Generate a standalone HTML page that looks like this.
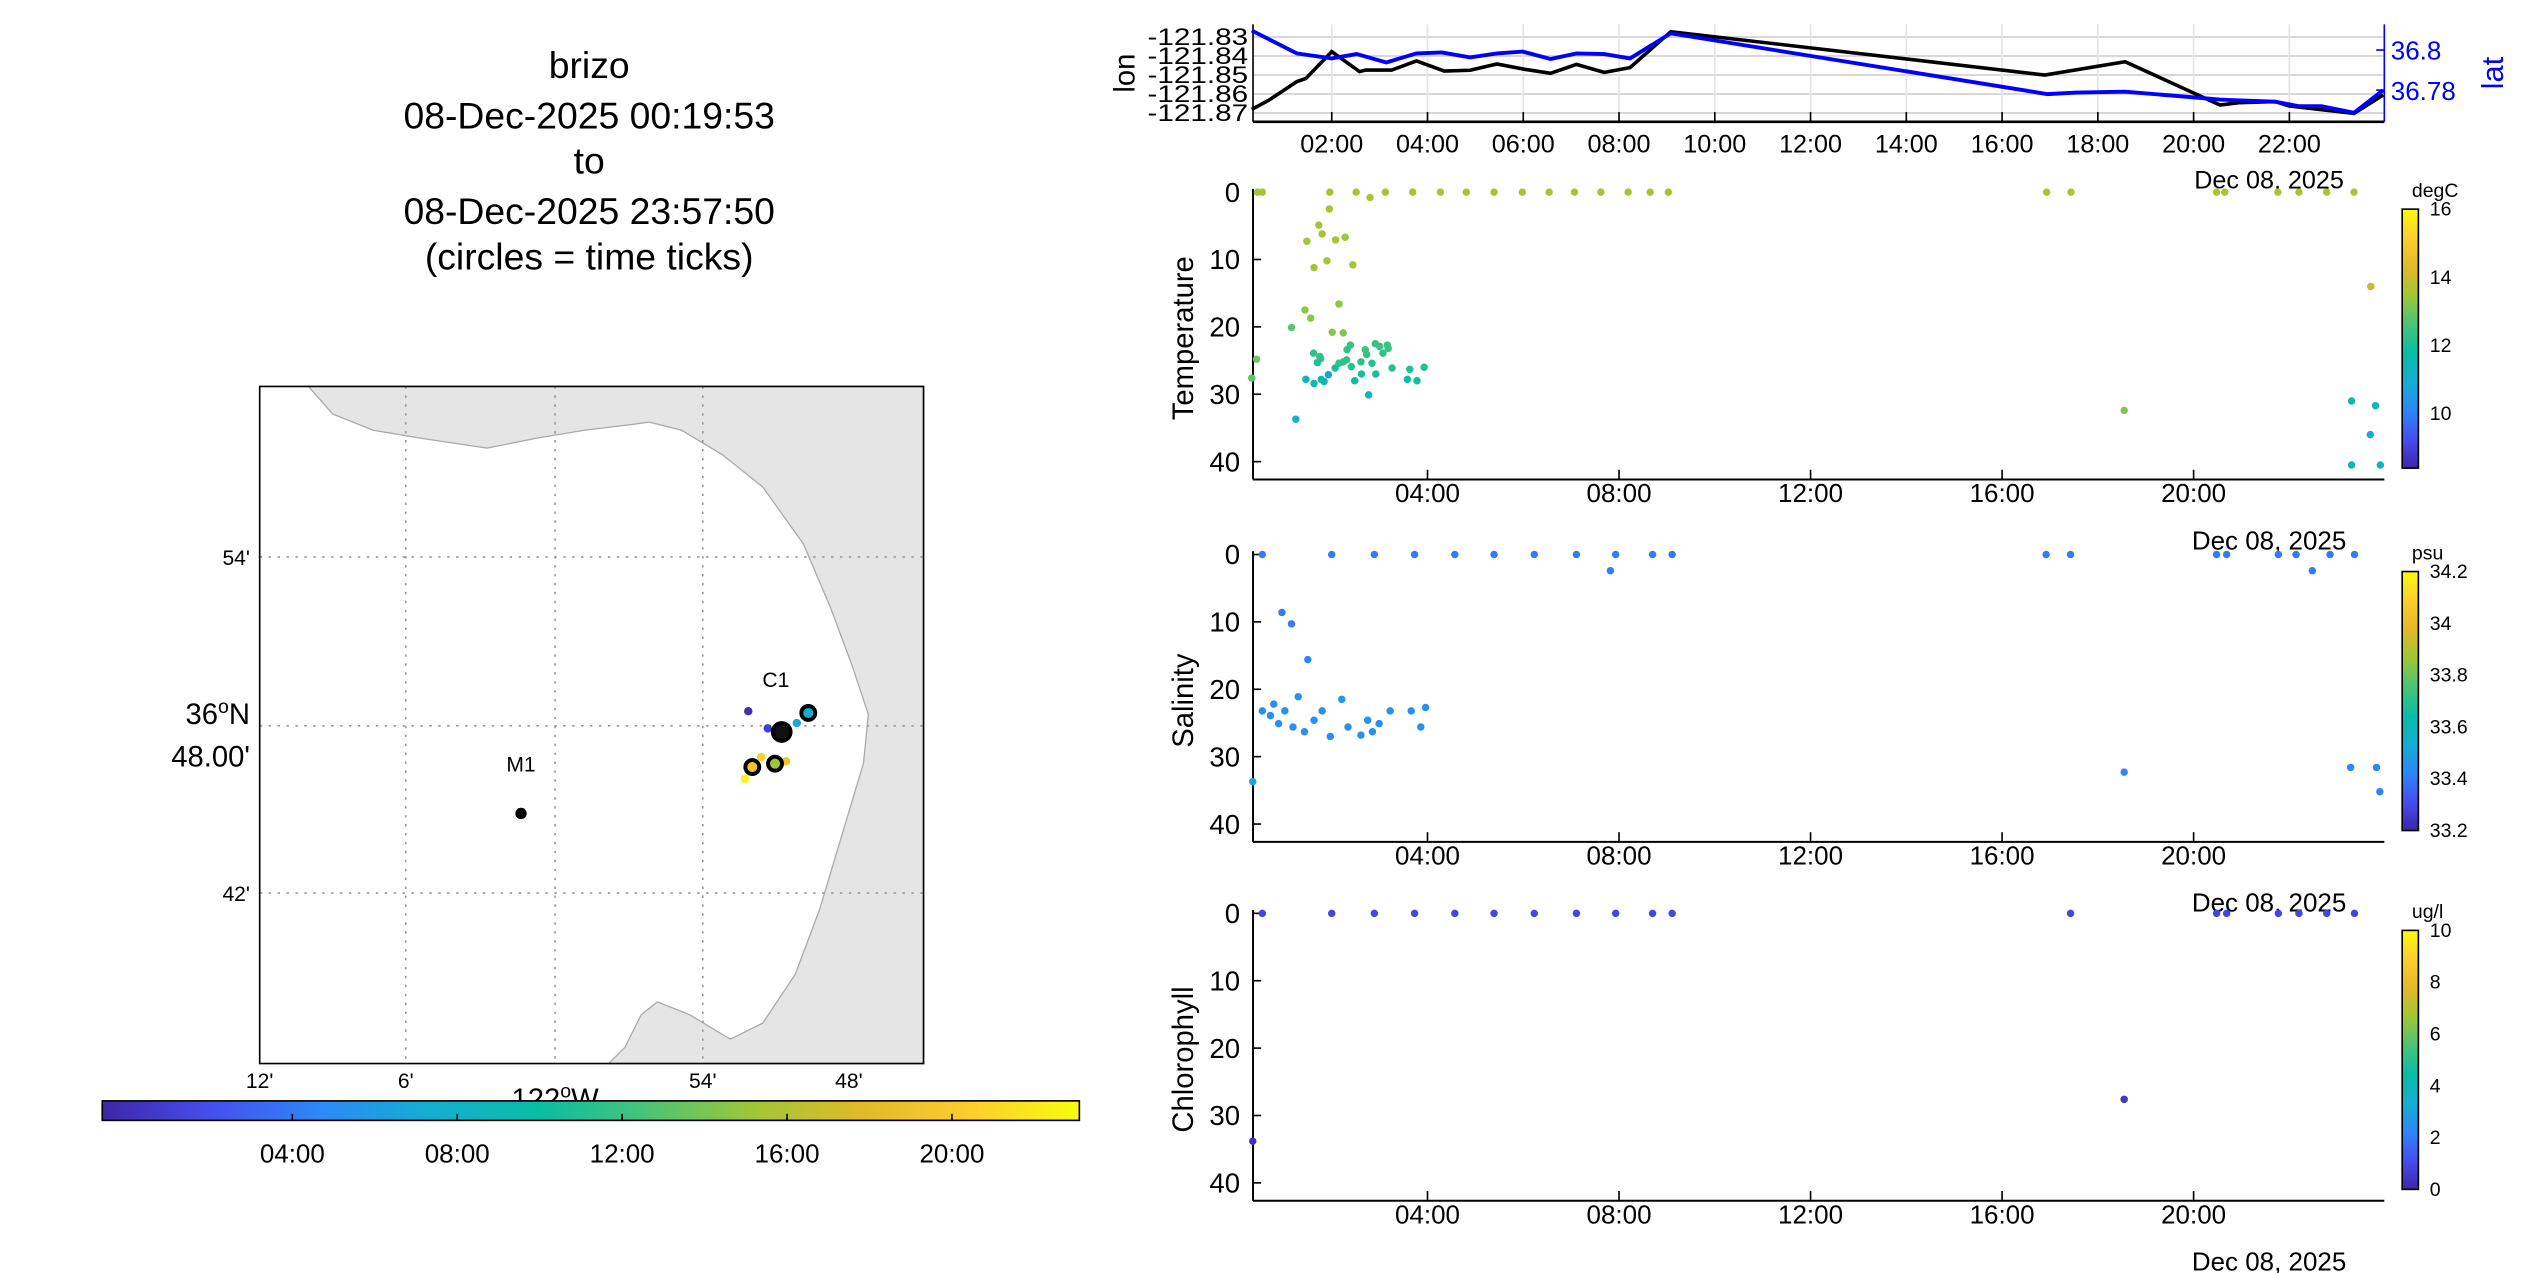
<!DOCTYPE html>
<html><head><meta charset="utf-8"><style>
html,body{margin:0;padding:0;background:#fff;}
svg{display:block;font-family:"Liberation Sans",sans-serif;}
</style></head><body>
<svg id="fig" width="2545" height="1273" viewBox="0 0 1568 784" preserveAspectRatio="none" xmlns="http://www.w3.org/2000/svg">
<g font-size="23" text-anchor="middle" fill="#000">
<text x="363" y="48">brizo</text>
<text x="363" y="79">08-Dec-2025 00:19:53</text>
<text x="363" y="107">to</text>
<text x="363" y="138">08-Dec-2025 23:57:50</text>
<text x="363" y="166">(circles = time ticks)</text>
</g>
<g id="map"></g>
<g id="top"></g>
<g id="panels"></g>
</svg>
<script>
const NS='http://www.w3.org/2000/svg';
// ---- lon/lat time series ----
const lonTime=[0.33,0.69,1.27,1.46,2.0,2.58,2.71,3.25,3.77,4.35,4.89,5.45,6.03,6.57,7.11,7.69,8.23,9.08,16.89,18.57,20.55,20.94,21.71,22.0,23.35,23.96];
const lonVal=[-121.8681,-121.8632,-121.8535,-121.8518,-121.8377,-121.8482,-121.8474,-121.8474,-121.8426,-121.8479,-121.8475,-121.8442,-121.847,-121.8491,-121.8444,-121.8486,-121.8461,-121.8272,-121.85,-121.843,-121.8658,-121.8646,-121.864,-121.8663,-121.8702,-121.8605];
const latTime=[0.33,1.27,2.0,2.52,3.14,3.77,4.3,4.89,5.45,5.99,6.57,7.11,7.69,8.23,9.08,16.95,17.56,18.57,20.55,20.84,21.71,22.19,22.67,23.35,23.96];
const latVal=[36.8097,36.7983,36.7958,36.798,36.7938,36.7983,36.7988,36.7963,36.7983,36.7992,36.7955,36.7983,36.798,36.7958,36.8083,36.778,36.7788,36.7792,36.7753,36.775,36.7742,36.772,36.772,36.7687,36.78];
const lonTicks=[-121.83,-121.84,-121.85,-121.86,-121.87];
const latTicks=[36.8,36.78];
const topHourTicks=[2,4,6,8,10,12,14,16,18,20,22];
const panelHourTicks=[4,8,12,16,20];
const depthTicks=[0,10,20,30,40];
// ---- temperature ----
const tempTime=[0.45,0.55,1.96,2.51,2.80,3.12,3.69,4.27,4.81,5.39,5.98,6.54,7.07,7.62,8.19,8.65,9.03,1.95,1.73,1.80,1.48,2.08,2.28,1.90,1.63,2.44,2.15,1.44,1.56,1.16,2.01,2.24,0.43,0.33,1.62,1.75,1.70,1.77,2.07,2.15,2.24,2.31,2.32,2.39,2.41,2.48,2.61,2.62,2.70,2.73,2.84,2.91,2.92,3.00,3.07,3.16,3.18,3.26,3.58,3.63,3.78,3.93,1.46,1.63,1.78,1.84,1.93,2.77,1.25,16.93,17.44,18.55,20.48,20.65,21.76,22.2,22.78,23.35,23.7,23.3,23.8,23.69,23.3,23.9];
const tempDepth=[0,0,0,0,0.8,0,0,0,0,0,0,0,0,0,0,0,0,2.5,4.9,6.2,7.3,7.1,6.7,10.2,11.2,10.8,16.6,17.5,18.7,20.1,20.8,20.9,24.8,27.6,23.9,24.4,25.3,24.7,26.1,25.4,25.2,24.9,23.4,22.7,25.9,28.0,25.2,27.0,23.4,24.1,25.4,22.5,27.0,22.9,23.9,22.7,23.2,26.1,27.8,26.3,28.0,26.0,27.8,28.4,27.8,28.1,27.1,30.1,33.7,0,0,32.4,0,0,0,0,0,0,14,31,31.7,36,40.5,40.5];
const tempVal=[13.5,13.5,13.5,13.5,13.5,13.5,13.5,13.5,13.5,13.5,13.5,13.5,13.5,13.5,13.5,13.5,13.5,13.5,13.5,13.5,13.5,13.5,13.5,13.5,13.5,13.5,13.3,13.3,13.3,12.8,13.2,13.2,13.0,12.8,12.3,12.3,12.0,12.3,12.0,12.3,12.3,12.3,12.3,12.4,12.2,11.8,12.3,12.0,12.4,12.3,12.2,12.4,12.0,12.4,12.3,12.4,12.4,12.2,11.9,12.1,11.9,12.1,11.5,11.5,11.5,11.6,10.6,11.2,11.0,13.6,13.6,13.2,13.6,13.6,13.6,13.6,13.6,13.6,13.9,11.5,11.5,10.8,11.3,11.3];
// ---- salinity ----
const salTime=[0.55,2.0,2.89,3.73,4.57,5.39,6.23,7.11,7.93,8.70,9.11,7.82,16.92,17.43,20.48,20.69,21.77,22.14,22.48,22.85,23.36,0.96,1.16,1.50,0.55,0.72,0.79,0.89,1.02,1.19,1.30,1.43,1.63,1.80,1.97,2.21,2.34,2.61,2.75,2.85,2.99,3.22,3.66,3.86,3.96,0.35,18.55,23.28,23.82,23.89];
const salDepth=[0,0,0,0,0,0,0,0,0,0,0,2.4,0,0,0,0,0,0,2.4,0,0,8.6,10.3,15.6,23.2,23.9,22.2,25.1,23.2,25.6,21.1,26.3,24.6,23.2,27.0,21.5,25.6,26.8,24.6,26.3,25.1,23.2,23.2,25.6,22.7,33.7,32.3,31.6,31.6,35.2];
const salVal=[33.4,33.4,33.4,33.4,33.4,33.4,33.4,33.4,33.4,33.4,33.4,33.4,33.4,33.4,33.4,33.4,33.4,33.4,33.4,33.4,33.4,33.4,33.4,33.42,33.45,33.45,33.45,33.45,33.45,33.45,33.45,33.45,33.45,33.45,33.45,33.45,33.45,33.45,33.45,33.45,33.45,33.45,33.45,33.45,33.45,33.5,33.42,33.42,33.42,33.42];
// ---- chlorophyll ----
const chlTime=[0.55,2.0,2.89,3.73,4.57,5.39,6.23,7.11,7.93,8.70,9.11,17.43,20.48,20.69,21.77,22.2,22.78,23.36,0.35,18.55];
const chlDepth=[0,0,0,0,0,0,0,0,0,0,0,0,0,0,0,0,0,0,33.8,27.6];
const chlVal=[0.9,0.9,0.9,0.9,0.9,0.9,0.9,0.9,0.9,0.9,0.9,0.9,0.9,0.9,0.9,0.9,0.9,0.9,0.3,0.5];
// ---- map track ----
const trackX=[461,473,490.9,459,464,469,484.3];
const trackY=[438,448.6,445.3,479.6,473,466.2,468.9];
const trackHour=[0.5,1.5,7.5,23.5,22.5,21.5,20];
const circleX=[481.6,498,463.5,477.5];
const circleY=[450.8,439.1,472.4,470.3];
const circleHour=[0.33,8,20,16];
const cbHourTicks=[4,8,12,16,20];

const stops=[[62,38,168],[70,78,238],[46,135,247],[21,174,210],[8,188,166],[73,196,119],[160,198,55],[226,185,41],[252,206,46],[249,251,14]];
function parula(t){t=Math.max(0,Math.min(1,t));const s=t*(stops.length-1),i=Math.min(Math.floor(s),stops.length-2),f=s-i;const c=stops[i].map((v,k)=>Math.round(v+(stops[i+1][k]-v)*f));return `rgb(${c[0]},${c[1]},${c[2]})`;}
function mk(tag,attrs,parent,text){const el=document.createElementNS(NS,tag);for(const k in attrs)el.setAttribute(k,attrs[k]);if(text!==undefined)el.textContent=text;parent.appendChild(el);return el;}
const xT=h=>761.5+h*29.5;
const fmt=h=>String(h).padStart(2,'0')+':00';

// ---------- top panel ----------
const topG=document.getElementById('top');
const L=772,R=1469,T=15,B=75;
const yLon=v=>22.8+(-121.83-v)/0.01*11.7;
const yLat=v=>30.8+(36.8-v)/0.01*12.35;
for(const v of lonTicks){const g=mk('line',{x1:L,x2:R,y1:yLon(v),y2:yLon(v),stroke:'#d8d8d8','stroke-width':1.2},topG);

const t=mk('text',{x:L-3,y:yLon(v)+5,'font-size':15,'text-anchor':'end',textLength:62,lengthAdjust:'spacingAndGlyphs'},topG,v.toFixed(2));
}
for(const h of topHourTicks){const g=mk('line',{x1:xT(h),x2:xT(h),y1:T,y2:B,stroke:'#e4e4e4','stroke-width':1},topG);

const tk=mk('line',{x1:xT(h),x2:xT(h),y1:B,y2:B-6,stroke:'#000','stroke-width':1},topG);

const t=mk('text',{x:xT(h),y:B+19,'font-size':15.5,'text-anchor':'middle'},topG,fmt(h));
}
let e=mk('line',{x1:L,x2:L,y1:T,y2:B,stroke:'#000','stroke-width':1},topG);
e=mk('line',{x1:L,x2:R,y1:B,y2:B,stroke:'#000','stroke-width':1.6},topG);
e=mk('line',{x1:R,x2:R,y1:T,y2:B,stroke:'#00f','stroke-width':1},topG);
for(const v of latTicks){const tk=mk('line',{x1:R-5,x2:R,y1:yLat(v),y2:yLat(v),stroke:'#00f'},topG);
const t=mk('text',{x:R+4,y:yLat(v)+6,'font-size':16,fill:'#00f'},topG,String(v));}
e=mk('polyline',{points:lonTime.map((h,i)=>xT(h)+','+yLon(lonVal[i])).join(' '),fill:'none',stroke:'#000','stroke-width':2.2},topG);
e=mk('polyline',{points:latTime.map((h,i)=>xT(h)+','+yLat(latVal[i])).join(' '),fill:'none',stroke:'#00f','stroke-width':2.4},topG);
e=mk('text',{transform:'translate(699,45) rotate(-90)','font-size':18,'text-anchor':'middle'},topG,'lon');
e=mk('text',{transform:'translate(1542,45) rotate(-90)','font-size':19,'text-anchor':'middle',fill:'#00f'},topG,'lat');
e=mk('text',{x:1398,y:116,'font-size':15.5,'text-anchor':'middle'},topG,'Dec 08, 2025');

// ---------- profile panels ----------
const panelsG=document.getElementById('panels');
const cfg=[
 {name:'temperature',title:'Temperature',y0:118.3,times:tempTime,depths:tempDepth,vals:tempVal,min:8.4,max:16,ticks:[16,14,12,10],unit:'degC',dec:0},
 {name:'salinity',title:'Salinity',y0:341.5,times:salTime,depths:salDepth,vals:salVal,min:33.2,max:34.2,ticks:[34.2,34,33.8,33.6,33.4,33.2],unit:'psu',dec:1},
 {name:'chlorophyll',title:'Chlorophyll',y0:562.5,times:chlTime,depths:chlDepth,vals:chlVal,min:0,max:10,ticks:[10,8,6,4,2,0],unit:'ug/l',dec:0}];
let gid=0;
for(const c of cfg){
 const g=mk('g',{},panelsG);
 const yD=d=>c.y0+d*4.15, bot=c.y0+177;
 e=mk('line',{x1:L,x2:L,y1:c.y0-2,y2:bot,stroke:'#000','stroke-width':1.2},g);
 e=mk('line',{x1:L,x2:R,y1:bot,y2:bot,stroke:'#000','stroke-width':1.2},g);
 for(const d of depthTicks){const tk=mk('line',{x1:L,x2:L+5,y1:yD(d),y2:yD(d),stroke:'#000'},g);
  const t=mk('text',{x:L-8,y:yD(d)+6,'font-size':17,'text-anchor':'end'},g,String(d));}
 for(const h of panelHourTicks){const tk=mk('line',{x1:xT(h),x2:xT(h),y1:bot,y2:bot-6,stroke:'#000'},g);
  const t=mk('text',{x:xT(h),y:bot+14,'font-size':16,'text-anchor':'middle'},g,fmt(h));}
 e=mk('text',{x:1398,y:bot+43,'font-size':16,'text-anchor':'middle'},g,'Dec 08, 2025');
 e=mk('text',{transform:`translate(735,${c.y0+90}) rotate(-90)`,'font-size':18,'text-anchor':'middle'},g,c.title);
 for(let i=0;i<c.times.length;i++){const p=mk('circle',{cx:xT(c.times[i]),cy:yD(c.depths[i]),r:2.3,fill:parula((c.vals[i]-c.min)/(c.max-c.min))},g);
  }
 const cbT=c.y0+10.5,cbB=bot-7,cbX=1480,cbW=10;gid++;
 const defs=mk('defs',{},g);const lg=mk('linearGradient',{id:'cb'+gid,x1:0,y1:1,x2:0,y2:0},defs);
 for(let k=0;k<=9;k++)mk('stop',{offset:k/9,'stop-color':parula(k/9)},lg);
 e=mk('rect',{x:cbX,y:cbT,width:cbW,height:cbB-cbT,fill:`url(#cb${gid})`,stroke:'#000','stroke-width':1},g);
 for(const v of c.ticks){const y=cbB-(v-c.min)/(c.max-c.min)*(cbB-cbT);
  const t=mk('text',{x:cbX+cbW+7,y:y+4,'font-size':12},g,c.dec?v.toFixed(1).replace(/\.0$/,''):String(v));}
 e=mk('text',{x:cbX+6,y:c.y0+3,'font-size':12},g,c.unit);
}

// ---------- map ----------
const mapG=document.getElementById('map');
const mx0=160,mx1=569,my0=238,my1=655;
e=mk('rect',{x:mx0,y:my0,width:mx1-mx0,height:my1-my0,fill:'#fff'},mapG);
e=mk('polygon',{points:'190,238 205,255 230,265 260,270 300,276 330,270 360,265 385,262 400,260 420,265 445,280 470,300 495,335 512,375 525,410 535,440 532,470 520,510 505,560 490,600 470,630 450,640 425,625 405,617 395,625 385,645 375,655 569,655 569,238',fill:'#e5e5e5',stroke:'#aaa','stroke-width':0.8},mapG);

for(const x of [250,342,433]){const l=mk('line',{x1:x,x2:x,y1:my0,y2:my1,stroke:'#999','stroke-dasharray':'1.5,4'},mapG);}
for(const y of [343,447,550]){const l=mk('line',{x1:mx0,x2:mx1,y1:y,y2:y,stroke:'#999','stroke-dasharray':'1.5,4'},mapG);}
e=mk('rect',{x:mx0,y:my0,width:mx1-mx0,height:my1-my0,fill:'none',stroke:'#000','stroke-width':1},mapG);
const lbl=(x,y,s,fs,anchor,n)=>{const t=mk('text',{x:x,y:y,'font-size':fs,'text-anchor':anchor},mapG,s);return t;};
lbl(154,348,"54'",13,'end','lat-label');lbl(154,555,"42'",13,'end','lat-label');
e=mk('text',{x:154,y:446,'font-size':18,'text-anchor':'end'},mapG);
e.innerHTML='36<tspan dy="-7" font-size="12">o</tspan><tspan dy="7">N</tspan>';
lbl(154,472,"48.00'",18,'end','lat-label-main-min');
lbl(160,670,"12'",13,'middle','lon-label');lbl(250,670,"6'",13,'middle','lon-label');lbl(433,670,"54'",13,'middle','lon-label');lbl(523,670,"48'",13,'middle','lon-label');
e=mk('text',{x:342,y:683,'font-size':18,'text-anchor':'middle'},mapG);
e.innerHTML='122<tspan dy="-7" font-size="12">o</tspan><tspan dy="7">W</tspan>';
lbl(321,475,'M1',13,'middle','mooring-m1-label');lbl(478,423,'C1',13,'middle','mooring-c1-label');
e=mk('circle',{cx:321,cy:501,r:3.5,fill:'#000'},mapG);
for(let i=0;i<trackX.length;i++){const p=mk('circle',{cx:trackX[i],cy:trackY[i],r:2.6,fill:parula(trackHour[i]/24)},mapG);}
for(let i=0;i<circleX.length;i++){const p=mk('circle',{cx:circleX[i],cy:circleY[i],r:i==0?5.5:4.3,fill:i==0?'#111':parula(circleHour[i]/24),stroke:'#000','stroke-width':2.4},mapG);}
const defs2=mk('defs',{},mapG);const lg2=mk('linearGradient',{id:'tcb',x1:0,y1:0,x2:1,y2:0},defs2);
for(let k=0;k<=9;k++)mk('stop',{offset:k/9,'stop-color':parula(k/9)},lg2);
e=mk('rect',{x:63,y:678,width:602,height:12,fill:'url(#tcb)',stroke:'#000','stroke-width':1},mapG);
const cbx=h=>78.5+h*25.4;
for(const h of cbHourTicks){const tk=mk('line',{x1:cbx(h),x2:cbx(h),y1:686,y2:690,stroke:'#000'},mapG);
 lbl(cbx(h),716,fmt(h),16,'middle','colorbar-tick-label');}
</script>
</body></html>
